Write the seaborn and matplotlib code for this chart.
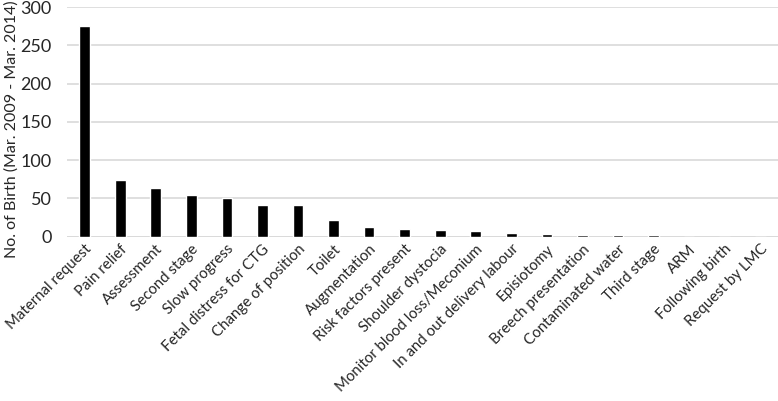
import matplotlib
matplotlib.use("Agg")
import matplotlib.pyplot as plt
import seaborn as sns
import pandas as pd

# categories and counts
reasons = ["Maternal request", "Pain relief", "Assessment", "Second stage",
           "Slow progress", "Fetal distress for CTG", "Change of position",
           "Toilet", "Augmentation", "Risk factors present", "Shoulder dystocia",
           "Monitor blood loss/Meconium", "In and out delivery labour",
           "Episiotomy", "Breech presentation", "Contaminated water",
           "Third stage", "ARM", "Following birth", "Request by LMC"]
counts = [276, 74, 64, 55, 50, 41, 41, 22, 12, 10, 8, 7, 5, 3, 2, 2, 2, 0, 0, 0]
y_ticks = [0, 50, 100, 150, 200, 250, 300]

df = pd.DataFrame({"reason": reasons, "count": counts})

sns.set_style("white")
plt.rcParams["font.family"] = ["Lato", "DejaVu Sans"]

fig = plt.figure(figsize=(7.78, 4.01), dpi=100)
ax = fig.add_axes([0.086, 0.41, 0.914, 0.572])

sns.barplot(data=df, x="reason", y="count", color="black", width=0.3,
            saturation=1, ax=ax, zorder=3)

ax.set_ylim(0, 300)
ax.set_yticks(y_ticks)
ax.set_xlim(-0.5, len(reasons) - 0.5)
ax.grid(axis="y", color="#d9d9d9", linewidth=1.2, zorder=0)
for s in ax.spines.values():
    s.set_visible(False)
ax.axhline(0, color="#d9d9d9", linewidth=1.2, zorder=1)

ax.tick_params(axis="both", length=0)
ax.tick_params(axis="x", labelsize=10.8, pad=4)
ax.tick_params(axis="y", labelsize=13, pad=11)
ax.set_xticks(range(len(reasons)))
ax.set_xticklabels(reasons, rotation=45, ha="right", rotation_mode="anchor")
ax.set_xlabel("")
ax.set_ylabel("No. of Birth (Mar. 2009 - Mar. 2014)", fontsize=11.5)
ax.yaxis.set_label_coords(-0.068, 0.47)

fig.savefig("out.png", dpi=100)
